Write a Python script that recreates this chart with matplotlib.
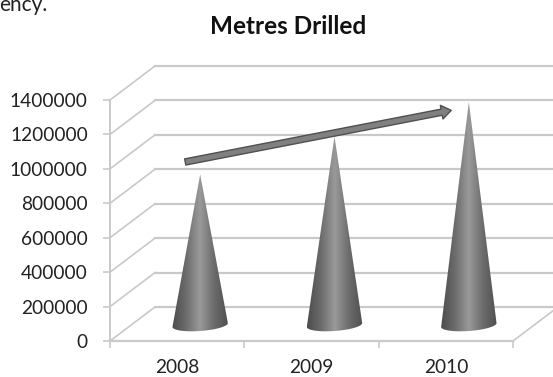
import numpy as np
import matplotlib
matplotlib.use("Agg")
import matplotlib.pyplot as plt
from matplotlib.patches import FancyArrowPatch
from matplotlib.path import Path
from matplotlib.transforms import Affine2D
from matplotlib.colors import LinearSegmentedColormap

categories = ["2008", "2009", "2010"]
metres = [875000, 1095000, 1295000]
y_ticks = [0, 200000, 400000, 600000, 800000, 1000000, 1200000, 1400000]
trend_start = (0.56, 1040000)
trend_end = (2.54, 1340000)

W, H = 553, 377
plt.rcParams["font.family"] = ["Lato", "DejaVu Sans"]
fig = plt.figure(figsize=(W / 100, H / 100), dpi=100)
L, R, T, B = 110, 513, 100, 341
ax = fig.add_axes([L / W, 1 - B / H, (R - L) / W, (B - T) / H])
n = len(categories)
ax.set_xlim(0, n)
ax.set_ylim(0, 1400000)
for s in ax.spines.values():
    s.set_visible(False)
ax.patch.set_visible(False)

GRID = "#c9c9c9"
dx, dy = 45, 34
front = ax.transData
back = ax.transData + Affine2D().translate(dx, dy)
mid = ax.transData + Affine2D().translate(23, 16)

# walls and floor
for v in y_ticks:
    ax.plot([0, n + 1], [v, v], color=GRID, lw=1.6, transform=back, zorder=1, clip_on=False)
    p0 = front.transform((0, v))
    ax.plot([p0[0], p0[0] + dx], [p0[1], p0[1] + dy], color=GRID, lw=1.2,
            transform=None, zorder=1, clip_on=False)
ax.plot([0, 0], [0, 1400000], color=GRID, lw=1.4, zorder=1, clip_on=False)
ax.plot([0, n], [0, 0], color=GRID, lw=1.6, zorder=1, clip_on=False)
p0 = front.transform((n, 0))
ax.plot([p0[0], p0[0] + dx], [p0[1], p0[1] + dy], color=GRID, lw=1.2,
        transform=None, zorder=1, clip_on=False)

ax.set_xticks(range(n + 1))
ax.set_xticklabels([])
ax.set_xticks([i + 0.5 for i in range(n)], labels=categories, minor=True)
ax.set_yticks(y_ticks)
ax.set_yticklabels([str(v) for v in y_ticks])
ax.tick_params(axis="y", length=5, width=1.2, color=GRID, labelsize=13.8, pad=11,
               labelcolor="#222222")
ax.tick_params(axis="x", which="major", length=5, width=1.2, color=GRID)
ax.tick_params(axis="x", which="minor", length=0, labelsize=13.8, pad=13, labelcolor="#222222")

# cones: gradient image clipped to a cone outline
cmap = LinearSegmentedColormap.from_list(
    "cone", ["#4c4c4c", "#6c6c6c", "#9a9a9a", "#6c6c6c", "#505050"])
grad = np.linspace(0, 1, 128)[None, :]
half = 27.7
ry = 6.0
inv = ax.transData.inverted()
for i, v in enumerate(metres):
    cx, cy = mid.transform((i + 0.5, 0))
    apex = mid.transform((i + 0.5, v))
    t = np.linspace(np.pi, 2 * np.pi, 40)
    ex = cx + half * np.cos(t)
    ey = cy + ry * np.sin(t) + 0.07 * half * np.cos(t)
    verts = [tuple(apex)] + list(zip(ex, ey)) + [tuple(apex)]
    codes = [Path.MOVETO] + [Path.LINETO] * (len(verts) - 2) + [Path.CLOSEPOLY]
    x0, y0 = inv.transform((cx - half, cy - ry - 3))
    x1, y1 = inv.transform((cx + half, apex[1]))
    im = ax.imshow(grad, cmap=cmap, aspect="auto", vmin=0, vmax=1, zorder=3,
                   extent=(x0, x1, y0, y1))
    im.set_clip_path(Path(verts, codes), transform=Affine2D())
ax.set_xlim(0, n)
ax.set_ylim(0, 1400000)

# trend arrow
ax.add_patch(FancyArrowPatch(trend_start, trend_end,
                             arrowstyle="simple,head_length=7,head_width=10,tail_width=4.5",
                             mutation_scale=1, fc="#808080", ec="#505050", lw=1.0,
                             transform=ax.transData, clip_on=False, zorder=5,
                             shrinkA=0, shrinkB=0))

fig.text(288 / W, 1 - 27 / H, "Metres Drilled", ha="center", va="center",
         fontsize=17.5, fontweight="bold", color="#111111")
fig.text(-1 / W, 1 - 5 / H, "ency.", ha="left", va="center", fontsize=15, color="#222222")
fig.savefig("out.png", dpi=100)
